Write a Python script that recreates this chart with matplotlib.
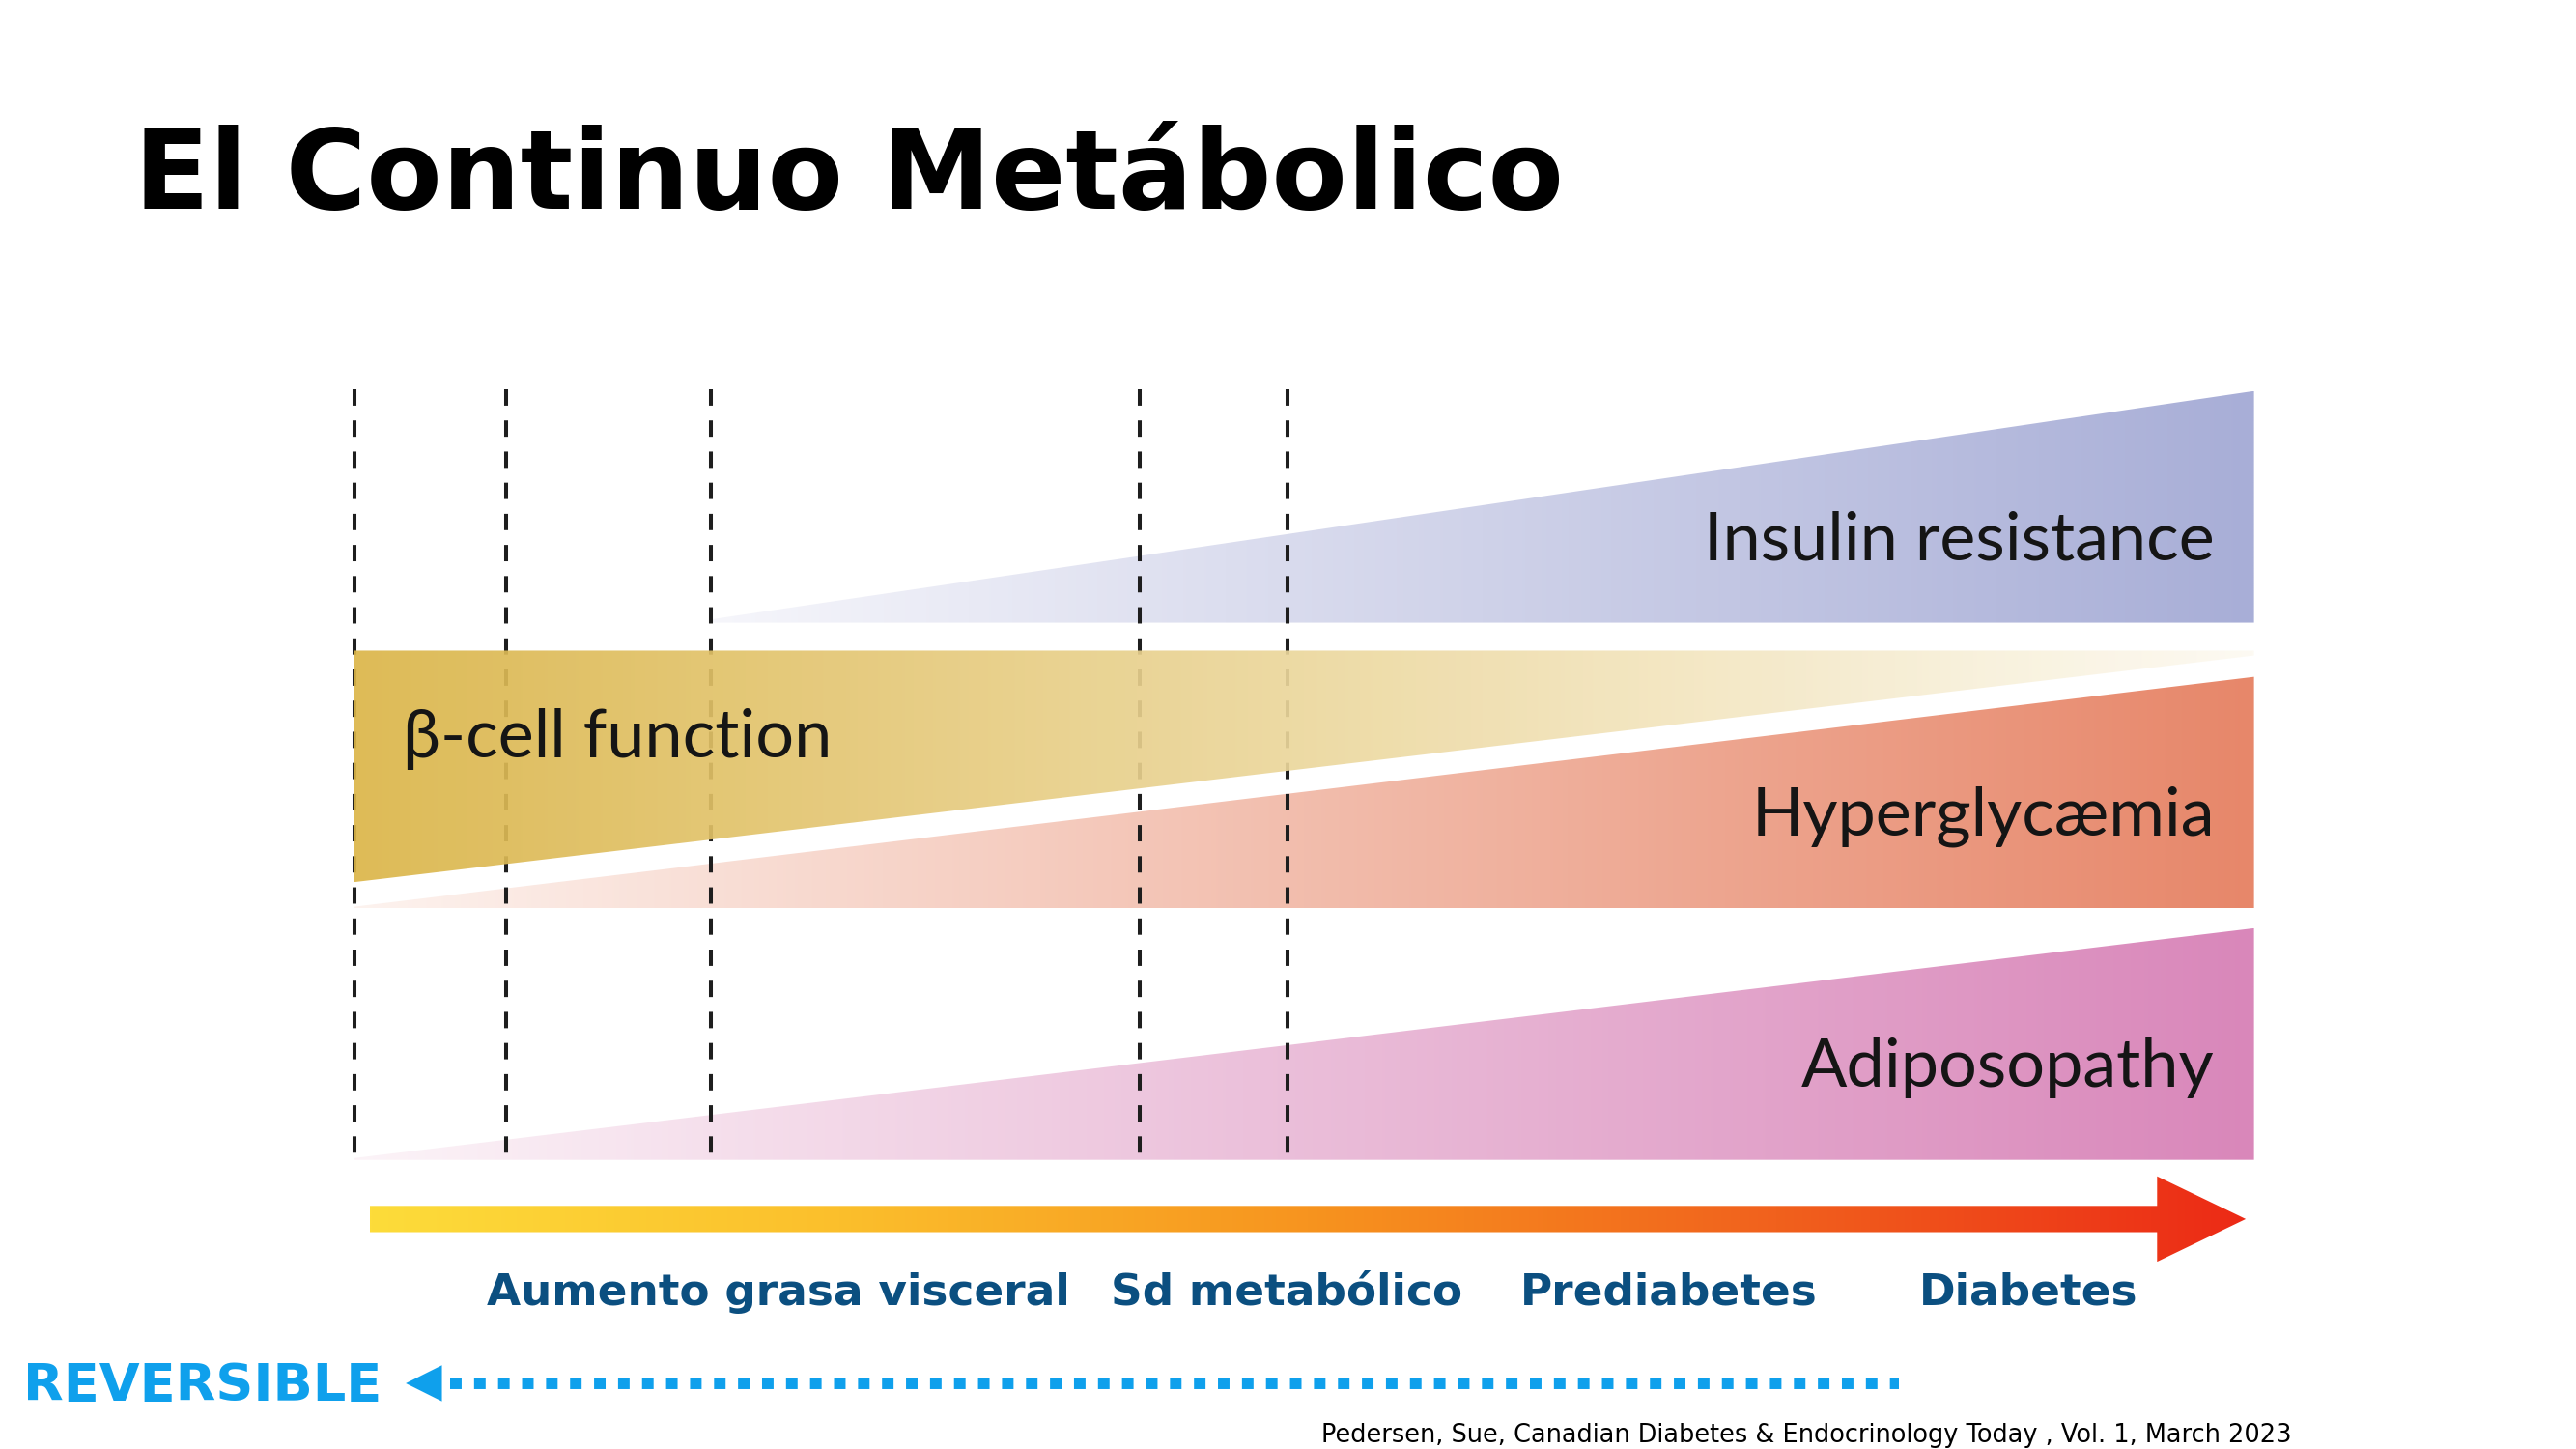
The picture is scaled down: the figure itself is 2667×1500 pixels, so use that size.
"""El Continuo Metabolico - gradient band diagram."""

import numpy as np
import matplotlib
matplotlib.use("Agg")
import matplotlib.pyplot as plt
from matplotlib.colors import to_rgb
from matplotlib.patches import Polygon

# canvas in reference display units
W, H = 1568, 882
S = 2667 / W  # display unit -> output pixel

# vertical dashed stage markers
marker_x = [216, 308, 433, 694, 784]
marker_top, marker_bottom = 237, 705

# bands: label, x start, x end, (top, bottom) at start, (top, bottom) at end
band_names = ["Insulin resistance", "β-cell function", "Hyperglycæmia", "Adiposopathy"]
band_x0 = [433, 215, 215, 215]
band_x1 = [1372, 1372, 1372, 1372]
band_left = [(377, 379), (396, 537), (552, 553), (705, 706)]
band_right = [(238, 379), (396, 399), (412, 553), (565, 706)]
band_c0 = ["#f6f6fb", "#dbb548", "#fdf3ef", "#fcf4f8"]
band_c1 = ["#a8aed7", "#fdfaf2", "#e7876a", "#d987ba"]
label_pos = [(1348, 329, "right"), (245, 450, "left"), (1348, 497, "right"), (1348, 650, "right")]

# progression arrow
arrow_colors = ["#fddc3a", "#fbbf2c", "#f7941f", "#f1611d", "#ec2a16"]
stages = ["Aumento grasa visceral", "Sd metabólico", "Prediabetes", "Diabetes"]
stage_x = [474, 783, 1016, 1235]

title = "El Continuo Metábolico"
citation = "Pedersen, Sue, Canadian Diabetes & Endocrinology Today , Vol. 1, March 2023"


def fs(em):
    """font size in points from em height in display units"""
    return em * S * 72 / 100


def gradient_fill(ax, verts, colors, x0, x1, y0, y1, zorder=2, alpha=1.0):
    cols = np.array([to_rgb(c) for c in colors])
    t = np.linspace(0, 1, 512)
    pos = np.linspace(0, 1, len(cols))
    rgb = np.stack([np.interp(t, pos, cols[:, k]) for k in range(3)], axis=-1)
    img = ax.imshow(rgb[None, :, :], extent=(x0, x1, y1, y0), aspect="auto",
                    interpolation="bilinear", zorder=zorder, alpha=alpha)
    poly = Polygon(verts, closed=True, facecolor="none", edgecolor="none")
    ax.add_patch(poly)
    img.set_clip_path(poly)


fig = plt.figure(figsize=(26.67, 15), dpi=100)
ax = fig.add_axes([0, 0, 1, 1])
ax.set_axis_off()

for x in marker_x:
    ax.plot([x, x], [marker_top, marker_bottom], color="#1e1e1e", lw=2.9,
            ls=(0, (4.2, 3.8)), zorder=3)

for i, name in enumerate(band_names):
    x0, x1 = band_x0[i], band_x1[i]
    lt, lb = band_left[i]
    rt, rb = band_right[i]
    verts = [(x0, lt), (x1, rt), (x1, rb), (x0, lb)]
    ys = [lt, lb, rt, rb]
    z = 4 if i == 1 else 2
    a = 0.92 if i == 1 else 1.0
    gradient_fill(ax, verts, [band_c0[i], band_c1[i]], x0, x1, min(ys), max(ys), zorder=z, alpha=a)
    lx, ly, ha = label_pos[i]
    ax.text(lx, ly, name, ha=ha, va="center", fontsize=fs(41.2), family="Lato",
            color="#151515", zorder=6)

# gradient arrow
arrow_verts = [(225, 734), (1313, 734), (1313, 716), (1367, 742),
               (1313, 768), (1313, 750), (225, 750)]
gradient_fill(ax, arrow_verts, arrow_colors, 225, 1367, 716, 768, zorder=3)

for name, x in zip(stages, stage_x):
    ax.text(x, 787, name, ha="center", va="center", fontsize=fs(26.7),
            fontweight="bold", color="#0b4f80")

# reversible arrow
ax.text(14, 844, "REVERSIBLE", ha="left", va="center", fontsize=fs(31.8),
        fontweight="bold", color="#0fa0ec")
ax.add_patch(Polygon([(247, 842), (269, 831), (269, 853)], closed=True,
                     facecolor="#0fa0ec", edgecolor="none"))
ax.plot([274, 1156], [842, 842], color="#0fa0ec", lw=8.6, ls=(0, (1.0, 1.08)),
        solid_capstyle="butt", dash_capstyle="butt")

ax.text(82, 127, title, ha="left", va="baseline", fontsize=fs(67),
        fontweight="bold", color="black")
ax.text(1395, 874, citation, ha="right", va="center", fontsize=fs(15.1),
        color="black")

ax.set_xlim(0, W)
ax.set_ylim(H, 0)
ax.set_aspect("auto")
fig.savefig("out.png", dpi=100, facecolor="white")
